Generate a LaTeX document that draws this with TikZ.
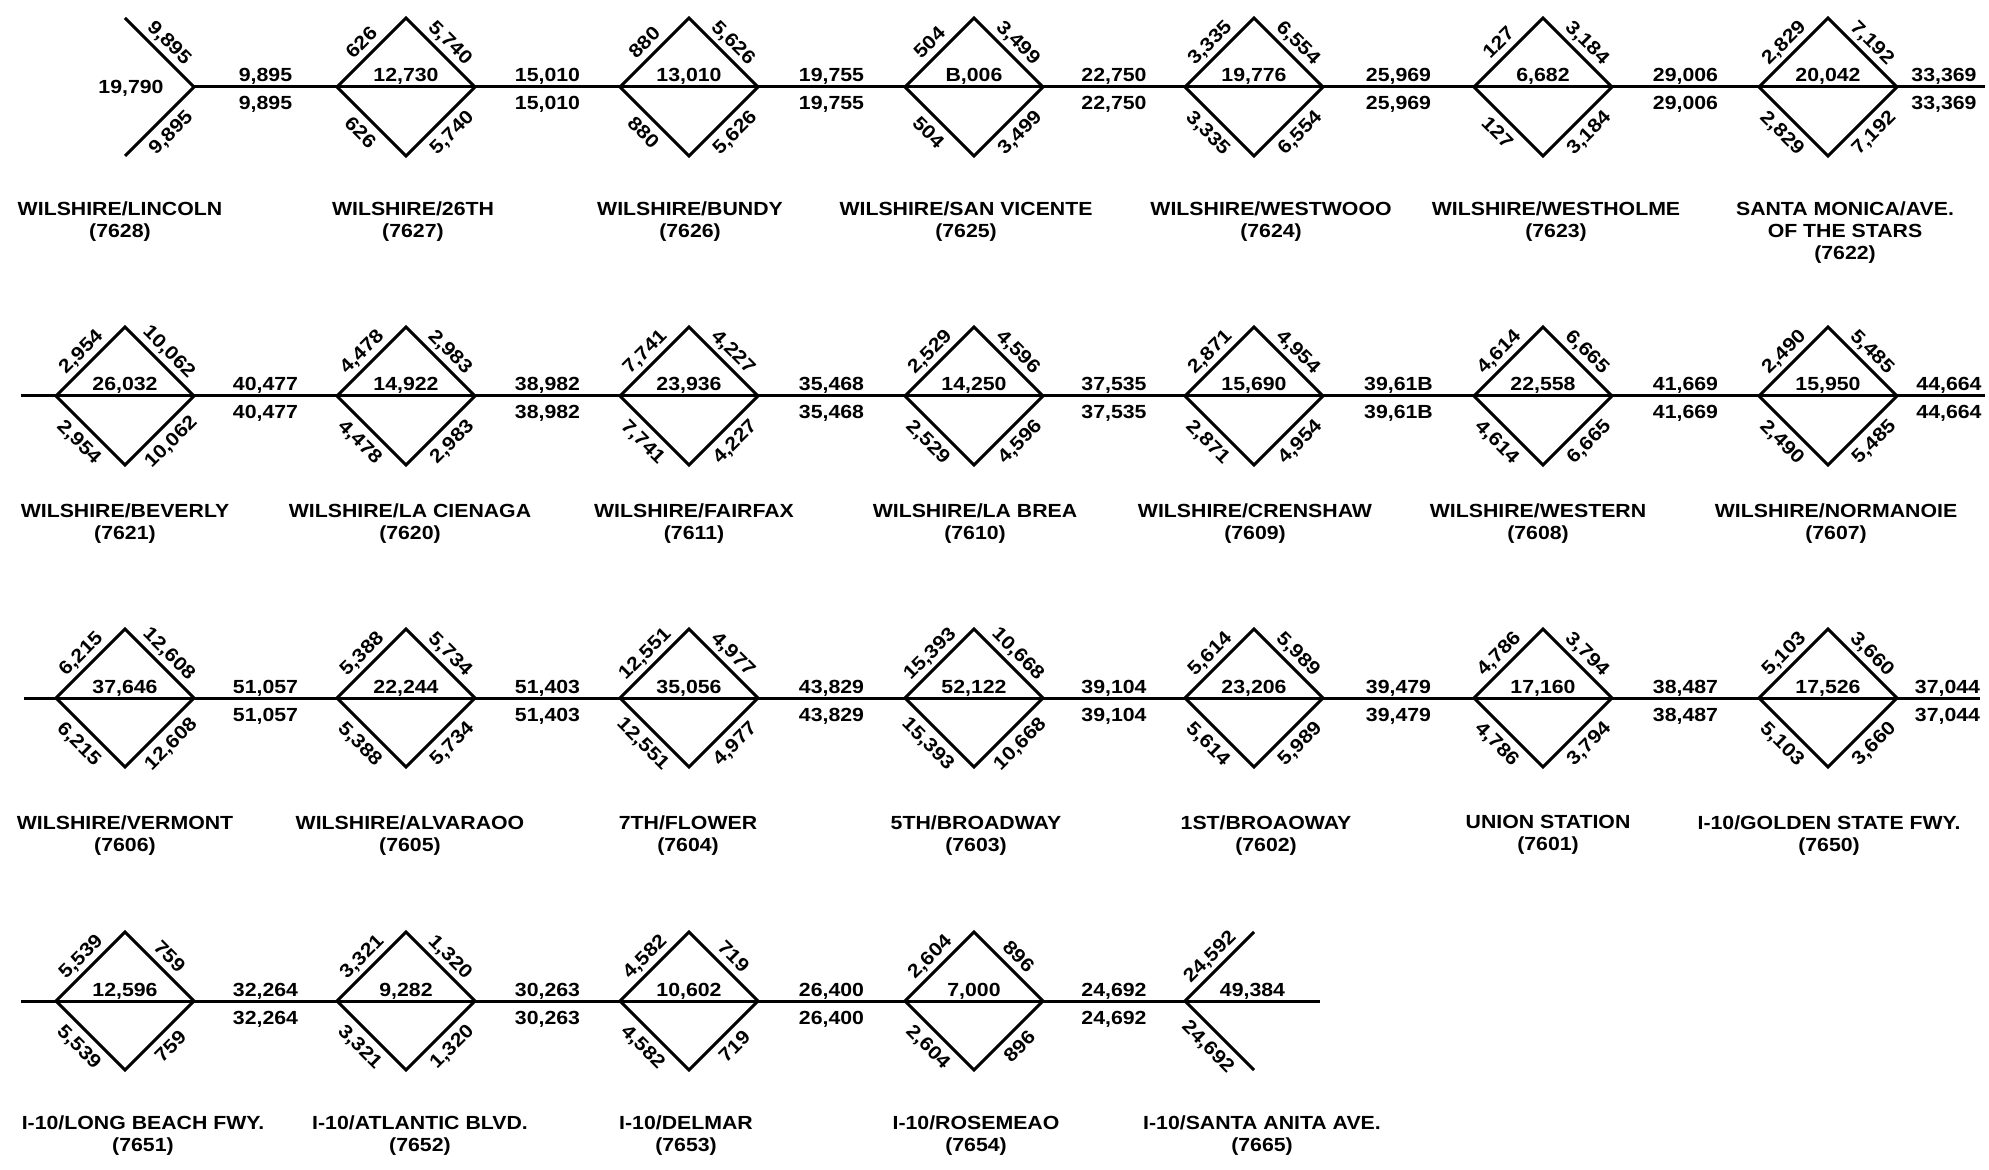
\documentclass[tikz,border=0pt]{standalone}
\usepackage{fontspec}
\setmainfont{Liberation Sans}[FakeStretch=1.12]
\newcommand\lblfont{\fontsize{9.5}{11}\selectfont\bfseries}
\tikzset{
  lbl/.style={font=\lblfont, text height=7pt, text depth=0pt, inner sep=0pt},
  upl/.style={lbl, yshift=6pt},
  dnl/.style={lbl, yshift=-8pt},
  eup/.style={lbl, sloped, above, inner sep=3.2pt},
  edn/.style={lbl, sloped, below, inner sep=3.2pt},
  stname/.style={font=\lblfont, align=center, inner sep=0pt, anchor=north},
  road/.style={line width=1.5pt}
}
% #1 id, #2 x, #3 y, #4 UL, #5 UR, #6 LL, #7 LR, #8 centre
\newcommand\Stn[8]{%
  \coordinate (#1-l) at ({#2-69},#3);
  \coordinate (#1-r) at ({#2+69},#3);
  \coordinate (#1-t) at (#2,{#3-69});
  \coordinate (#1-b) at (#2,{#3+69});
  \draw[road] (#1-l) -- node[eup]{#4} (#1-t) -- node[eup]{#5} (#1-r);
  \draw[road] (#1-l) -- node[edn]{#6} (#1-b) -- node[edn]{#7} (#1-r);
  \path (#1-l) -- node[upl]{#8} (#1-r);
}
\begin{document}
\begin{tikzpicture}[x=0.5pt,y=-0.5pt]
\useasboundingbox (0,0) rectangle (1989,1170);

% ---------------- Row 1
\coordinate (lin-t) at (125,18);
\coordinate (lin-r) at (194,87);
\coordinate (lin-b) at (125,156);
\draw[road] (lin-t) -- node[eup]{9,895} (lin-r);
\draw[road] (lin-b) -- node[edn]{9,895} (lin-r);
\node[lbl] (lin-in) at (131,87) {19,790};
\Stn{s26}{406}{87}{626}{5,740}{626}{5,740}{12,730}
\Stn{bun}{689}{87}{880}{5,626}{880}{5,626}{13,010}
\Stn{sv}{974}{87}{504}{3,499}{504}{3,499}{B,006}
\Stn{ww}{1254}{87}{3,335}{6,554}{3,335}{6,554}{19,776}
\Stn{wh}{1543}{87}{127}{3,184}{127}{3,184}{6,682}
\Stn{sm}{1828}{87}{2,829}{7,192}{2,829}{7,192}{20,042}
\coordinate (e1) at (1985,87);
\draw[road] (lin-r) -- node[upl]{9,895} node[dnl]{9,895} (s26-l) -- (s26-r)
  -- node[upl]{15,010} node[dnl]{15,010} (bun-l) -- (bun-r)
  -- node[upl]{19,755} node[dnl]{19,755} (sv-l) -- (sv-r)
  -- node[upl]{22,750} node[dnl]{22,750} (ww-l) -- (ww-r)
  -- node[upl]{25,969} node[dnl]{25,969} (wh-l) -- (wh-r)
  -- node[upl]{29,006} node[dnl]{29,006} (sm-l) -- (sm-r)
  -- node[upl, xshift=1.5pt]{33,369} node[dnl, xshift=1.5pt]{33,369} (e1);

\node[stname] (n7628) at (120,201) {WILSHIRE/LINCOLN\\(7628)};
\node[stname] (n7627) at (413,201) {WILSHIRE/26TH\\(7627)};
\node[stname] (n7626) at (690,201) {WILSHIRE/BUNDY\\(7626)};
\node[stname] (n7625) at (966,201) {WILSHIRE/SAN VICENTE\\(7625)};
\node[stname] (n7624) at (1271,201) {WILSHIRE/WESTWOOO\\(7624)};
\node[stname] (n7623) at (1556,201) {WILSHIRE/WESTHOLME\\(7623)};
\node[stname] (n7622) at (1845,201) {SANTA MONICA/AVE.\\OF THE STARS\\(7622)};

% ---------------- Row 2
\coordinate (s2) at (21,396);
\Stn{bev}{125}{396}{2,954}{10,062}{2,954}{10,062}{26,032}
\Stn{lac}{406}{396}{4,478}{2,983}{4,478}{2,983}{14,922}
\Stn{fai}{689}{396}{7,741}{4,227}{7,741}{4,227}{23,936}
\Stn{lab}{974}{396}{2,529}{4,596}{2,529}{4,596}{14,250}
\Stn{cre}{1254}{396}{2,871}{4,954}{2,871}{4,954}{15,690}
\Stn{wes}{1543}{396}{4,614}{6,665}{4,614}{6,665}{22,558}
\Stn{nor}{1828}{396}{2,490}{5,485}{2,490}{5,485}{15,950}
\coordinate (e2) at (1985,396);
\draw[road] (s2) -- (bev-l) -- (bev-r)
  -- node[upl]{40,477} node[dnl]{40,477} (lac-l) -- (lac-r)
  -- node[upl]{38,982} node[dnl]{38,982} (fai-l) -- (fai-r)
  -- node[upl]{35,468} node[dnl]{35,468} (lab-l) -- (lab-r)
  -- node[upl]{37,535} node[dnl]{37,535} (cre-l) -- (cre-r)
  -- node[upl]{39,61B} node[dnl]{39,61B} (wes-l) -- (wes-r)
  -- node[upl]{41,669} node[dnl]{41,669} (nor-l) -- (nor-r)
  -- node[upl, xshift=4pt]{44,664} node[dnl, xshift=4pt]{44,664} (e2);

\node[stname] (n7621) at (125,503) {WILSHIRE/BEVERLY\\(7621)};
\node[stname] (n7620) at (410,503) {WILSHIRE/LA CIENAGA\\(7620)};
\node[stname] (n7611) at (694,503) {WILSHIRE/FAIRFAX\\(7611)};
\node[stname] (n7610) at (975,503) {WILSHIRE/LA BREA\\(7610)};
\node[stname] (n7609) at (1255,503) {WILSHIRE/CRENSHAW\\(7609)};
\node[stname] (n7608) at (1538,503) {WILSHIRE/WESTERN\\(7608)};
\node[stname] (n7607) at (1836,503) {WILSHIRE/NORMANOIE\\(7607)};

% ---------------- Row 3
\coordinate (s3) at (24,698);
\Stn{ver}{125}{698}{6,215}{12,608}{6,215}{12,608}{37,646}
\Stn{alv}{406}{698}{5,388}{5,734}{5,388}{5,734}{22,244}
\Stn{flo}{689}{698}{12,551}{4,977}{12,551}{4,977}{35,056}
\Stn{fib}{974}{698}{15,393}{10,668}{15,393}{10,668}{52,122}
\Stn{fsb}{1254}{698}{5,614}{5,989}{5,614}{5,989}{23,206}
\Stn{uni}{1543}{698}{4,786}{3,794}{4,786}{3,794}{17,160}
\Stn{gsf}{1828}{698}{5,103}{3,660}{5,103}{3,660}{17,526}
\coordinate (e3) at (1980,698);
\draw[road] (s3) -- (ver-l) -- (ver-r)
  -- node[upl]{51,057} node[dnl]{51,057} (alv-l) -- (alv-r)
  -- node[upl]{51,403} node[dnl]{51,403} (flo-l) -- (flo-r)
  -- node[upl]{43,829} node[dnl]{43,829} (fib-l) -- (fib-r)
  -- node[upl]{39,104} node[dnl]{39,104} (fsb-l) -- (fsb-r)
  -- node[upl]{39,479} node[dnl]{39,479} (uni-l) -- (uni-r)
  -- node[upl]{38,487} node[dnl]{38,487} (gsf-l) -- (gsf-r)
  -- node[upl, xshift=4.5pt]{37,044} node[dnl, xshift=4.5pt]{37,044} (e3);

\node[stname] (n7606) at (125,815) {WILSHIRE/VERMONT\\(7606)};
\node[stname] (n7605) at (410,815) {WILSHIRE/ALVARAOO\\(7605)};
\node[stname] (n7604) at (688,815) {7TH/FLOWER\\(7604)};
\node[stname] (n7603) at (976,815) {5TH/BROADWAY\\(7603)};
\node[stname] (n7602) at (1266,815) {1ST/BROAOWAY\\(7602)};
\node[stname] (n7601) at (1548,815) {UNION STATION\\(7601)};
\node[stname] (n7650) at (1829,815) {I-10/GOLDEN STATE FWY.\\(7650)};

% ---------------- Row 4
\coordinate (s4) at (21,1001);
\Stn{lbf}{125}{1001}{5,539}{759}{5,539}{759}{12,596}
\Stn{atl}{406}{1001}{3,321}{1,320}{3,321}{1,320}{9,282}
\Stn{del}{689}{1001}{4,582}{719}{4,582}{719}{10,602}
\Stn{ros}{974}{1001}{2,604}{896}{2,604}{896}{7,000}
\coordinate (sa-l) at (1185,1001);
\coordinate (sa-t) at (1254,932);
\coordinate (sa-b) at (1254,1070);
\draw[road] (sa-l) -- node[eup]{24,592} (sa-t);
\draw[road] (sa-l) -- node[edn]{24,692} (sa-b);
\coordinate (e4) at (1320,1001);
\draw[road] (s4) -- (lbf-l) -- (lbf-r)
  -- node[upl]{32,264} node[dnl]{32,264} (atl-l) -- (atl-r)
  -- node[upl]{30,263} node[dnl]{30,263} (del-l) -- (del-r)
  -- node[upl]{26,400} node[dnl]{26,400} (ros-l) -- (ros-r)
  -- node[upl]{24,692} node[dnl]{24,692} (sa-l)
  -- node[upl]{49,384} (e4);

\node[stname] (n7651) at (143,1115) {I-10/LONG BEACH FWY.\\(7651)};
\node[stname] (n7652) at (420,1115) {I-10/ATLANTIC BLVD.\\(7652)};
\node[stname] (n7653) at (686,1115) {I-10/DELMAR\\(7653)};
\node[stname] (n7654) at (976,1115) {I-10/ROSEMEAO\\(7654)};
\node[stname] (n7665) at (1262,1115) {I-10/SANTA ANITA AVE.\\(7665)};
\end{tikzpicture}
\end{document}
